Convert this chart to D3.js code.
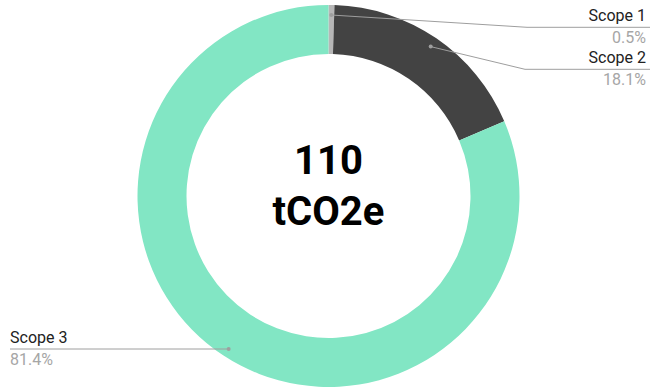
<!DOCTYPE html>
<html>
<head>
<meta charset="utf-8">
<script src="https://cdn.jsdelivr.net/npm/d3@7/dist/d3.min.js"></script>
<style>
  html, body { margin: 0; padding: 0; background: #fff; }
  svg { display: block; font-family: Roboto, "Noto Sans", sans-serif; }
</style>
</head>
<body>
<svg id="chart" width="652" height="387"></svg>
<script>
// Emission shares by scope (percent of total)
const categories = ["Scope 1", "Scope 2", "Scope 3"];
const shares = [0.5, 18.1, 81.4];
const colors = ["#b7b7b7", "#434343", "#82e6c4"];
const totalLabel = ["110", "tCO2e"];

const W = 652, H = 387;
const cx = 328.5, cy = 196;
const outerR = 191, innerR = 142, anchorR = 181;

const svg = d3.select("#chart");
const g = svg.append("g").attr("transform", `translate(${cx},${cy})`);

const data = categories.map((c, i) => ({ name: c, value: shares[i], color: colors[i] }));

const pie = d3.pie().value(d => d.value).sort(null).startAngle(0).endAngle(2 * Math.PI);
const arcs = pie(data);

const arc = d3.arc().innerRadius(innerR).outerRadius(outerR);

g.selectAll("path.slice")
  .data(arcs)
  .join("path")
  .attr("class", "slice")
  .attr("d", arc)
  .attr("fill", d => d.data.color);

// Centre total
const center = g.append("text")
  .attr("text-anchor", "middle")
  .attr("font-weight", "bold")
  .attr("font-size", 40)
  .attr("fill", "#000");
center.append("tspan").attr("x", 0).attr("y", -22.5).text(totalLabel[0]);
center.append("tspan").attr("x", 0).attr("y", 29).text(totalLabel[1]);

// Leader-line label layout: row line y for each slice, and which side
const labelLayout = [
  { side: "right", lineY: 27.3, elbowX: 527 },
  { side: "right", lineY: 69.3, elbowX: 525 },
  { side: "left",  lineY: 349 }
];

const lineColor = "#9e9e9e";
const rightEdge = 646, lineEnd = 650, leftEdge = 10;

arcs.forEach((a, i) => {
  const mid = (a.startAngle + a.endAngle) / 2;
  const px = cx + anchorR * Math.sin(mid);
  const py = cy - anchorR * Math.cos(mid);
  const L = labelLayout[i];
  let pts;
  if (L.side === "right") {
    pts = [[px, py], [L.elbowX, L.lineY], [lineEnd, L.lineY]];
  } else {
    pts = [[px, L.lineY], [leftEdge, L.lineY]];
  }
  svg.append("path")
    .attr("d", d3.line()(pts))
    .attr("fill", "none")
    .attr("stroke", lineColor)
    .attr("stroke-width", 1);
  svg.append("circle")
    .attr("cx", px).attr("cy", L.side === "right" ? py : L.lineY)
    .attr("r", 2)
    .attr("fill", lineColor);

  const tx = L.side === "right" ? rightEdge : leftEdge;
  const anchor = L.side === "right" ? "end" : "start";
  svg.append("text")
    .attr("x", tx).attr("y", L.lineY - 6)
    .attr("text-anchor", anchor)
    .attr("font-size", 16)
    .attr("fill", "#222")
    .text(a.data.name);
  svg.append("text")
    .attr("x", tx).attr("y", L.lineY + 15.5)
    .attr("text-anchor", anchor)
    .attr("font-size", 16)
    .attr("fill", "#a6a6a6")
    .text(d3.format(".1f")(a.data.value) + "%");
});
</script>
</body>
</html>
